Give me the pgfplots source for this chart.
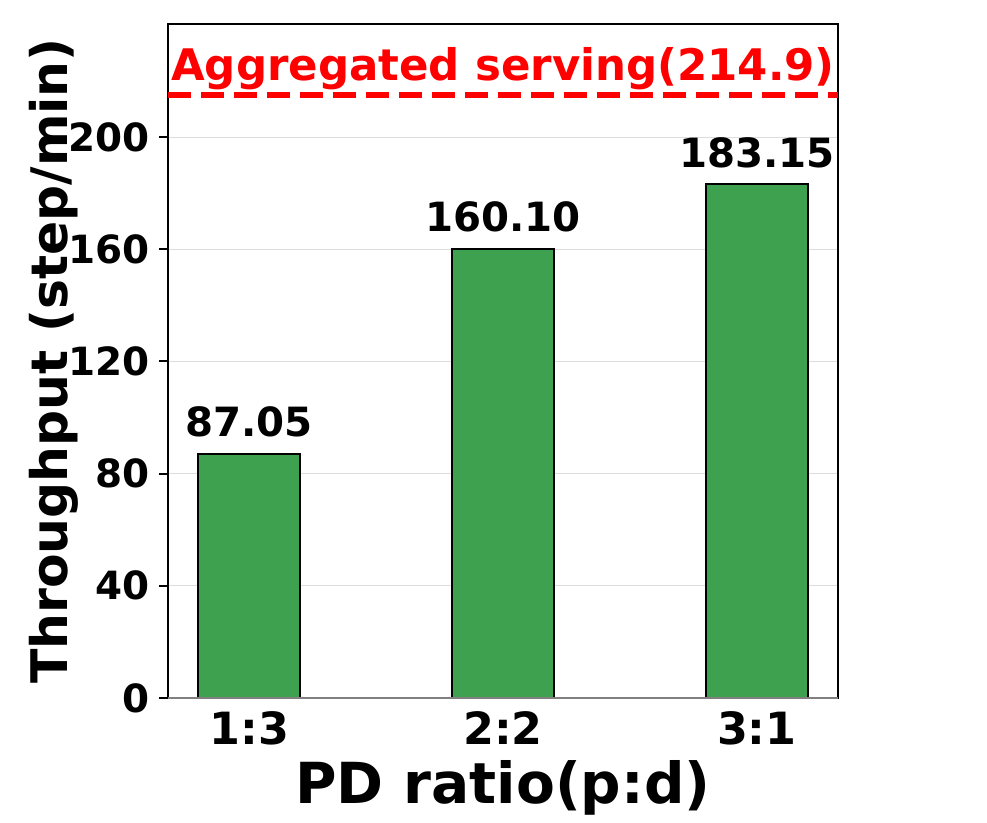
\documentclass[border=0pt]{standalone}
\usepackage{fontspec}
\setmainfont{DejaVu Sans}
\usepackage{pgfplots}
\pgfplotsset{compat=1.18}
\definecolor{bargreen}{RGB}{62,161,79}
\definecolor{gridgray}{RGB}{221,221,221}
\begin{document}
\begin{tikzpicture}[x=1pt,y=1pt]
\useasboundingbox (0,0) rectangle (987,822);
\begin{axis}[
  at={(168pt,124pt)}, anchor=south west,
  scale only axis, width=670pt, height=674pt,
  xmin=-0.32, xmax=2.32, ymin=0, ymax=240.3,
  /pgf/number format/assume math mode=true,
  xtick={0,1,2}, xticklabels={1:3,2:2,3:1},
  ytick={0,40,80,120,160,200},
  ytick pos=left, xtick pos=bottom,
  ymajorgrids, grid style={gridgray, line width=1pt},
  axis line style={black, line width=2pt},
  tick align=outside, major tick length=9pt,
  ytick style={black, line width=2pt},
  xtick style={draw=none},
  yticklabel style={font=\fontsize{38.9}{40}\selectfont\bfseries, inner sep=0pt, xshift=-9pt},
  xticklabel style={font=\fontsize{44.4}{46}\selectfont\bfseries, inner sep=0pt, anchor=north, yshift=-4pt},
  ylabel={Throughput (step/min)},
  ylabel style={font=\fontsize{50.4}{52}\selectfont\bfseries, at={(axis description cs:-0.1507,0.5)}, anchor=base},
  xlabel={PD ratio(p:d)},
  xlabel style={font=\fontsize{56.6}{58}\selectfont\bfseries, at={(axis description cs:0.5,-0.1558)}, anchor=base},
]
\addplot[ybar, bar width=0.4, fill=bargreen, draw=black, line width=2pt,
  nodes near coords={\pgfmathprintnumber[fixed,fixed zerofill,precision=2]{\pgfplotspointmeta}},
  every node near coord/.append style={font=\fontsize{40.3}{42}\selectfont\bfseries, anchor=base, yshift=17pt, inner sep=0pt, black}]
  coordinates {(0,87.05) (1,160.10) (2,183.15)};
\addplot[red, line width=6pt, dash pattern=on 23pt off 10pt, forget plot]
  coordinates {(-0.32,214.9) (2.32,214.9)};
\draw[gray, line width=2pt] (axis cs:-0.32,0) -- (axis cs:2.32,0);
\node[red, font=\fontsize{43.5}{45}\selectfont\bfseries, anchor=base, inner sep=0pt] at (axis cs:1,220.3) {Aggregated serving(214.9)};
\end{axis}
\end{tikzpicture}
\end{document}
